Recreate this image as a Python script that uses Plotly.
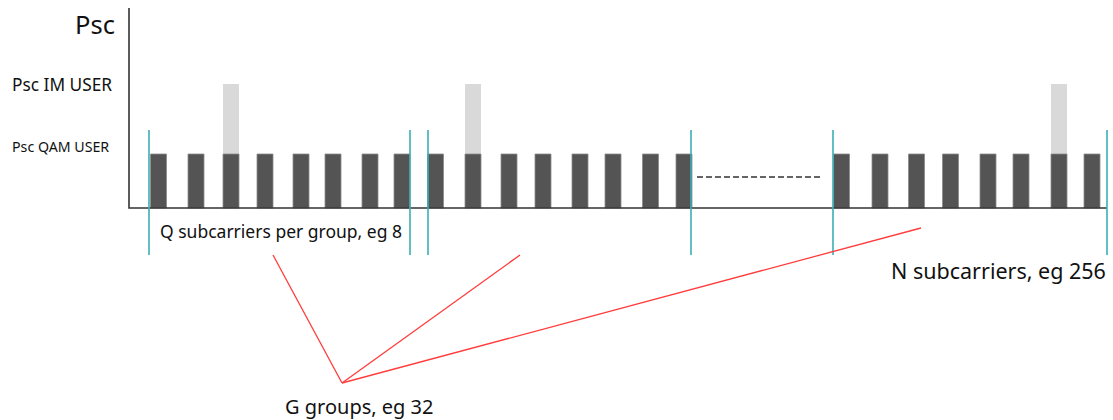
import plotly.graph_objects as go

# ---- data (x positions in chart units, levels in chart units above the baseline) ----
group1_x = [158.5, 196, 231, 265, 301, 333, 370, 402]
group2_x = [435.5, 473, 509, 543, 580, 613, 650.5, 684]
group3_x = [841.5, 880, 916.5, 950.5, 988, 1021, 1059, 1092]
im_x = [231, 473, 1059]          # subcarriers carrying the IM user
qam_level = 54
im_level = 124
separators_x = [149, 410, 428, 691, 833, 1107]
gap_dash_x = [697, 822]
gap_dash_y = 31
g_vertex = (342, -175)
g_targets = [(273, -47), (520, -47), (921, -20)]

DARK = "#545454"
LIGHT = "#d9d9d9"
TEAL = "#3aafb5"
RED = "#ff3b3b"
FONT = "Noto Sans"

all_x = group1_x + group2_x + group3_x

fig = go.Figure()

# light IM bars (behind)
fig.add_trace(go.Bar(x=im_x, y=[im_level] * len(im_x), width=16,
                     marker=dict(color=LIGHT, line=dict(width=0)), showlegend=False))
# dark QAM bars
fig.add_trace(go.Bar(x=all_x, y=[qam_level] * len(all_x), width=16,
                     marker=dict(color=DARK, line=dict(color="#8a8a8a", width=0.8)),
                     showlegend=False))

# axes
fig.add_trace(go.Scatter(x=[129, 129, 1107], y=[200, 0, 0], mode="lines",
                         line=dict(color="#333333", width=1.6), showlegend=False))

# teal group separators
for sx in separators_x:
    fig.add_trace(go.Scatter(x=[sx, sx], y=[78, -47], mode="lines",
                             line=dict(color=TEAL, width=1.6), showlegend=False))

# dashed gap
fig.add_trace(go.Scatter(x=gap_dash_x, y=[gap_dash_y, gap_dash_y], mode="lines",
                         line=dict(color="#333333", width=1.6, dash="6px,3px"),
                         showlegend=False))

# red pointer lines
for tx, ty in g_targets:
    fig.add_trace(go.Scatter(x=[g_vertex[0], tx], y=[g_vertex[1], ty], mode="lines",
                             line=dict(color=RED, width=1.3), showlegend=False))

annots = [
    dict(x=117, y=184, text="Psc", xanchor="right", size=25.5),
    dict(x=10, y=124, text="Psc IM USER", xanchor="left", size=17.3),
    dict(x=10, y=62, text="Psc QAM USER", xanchor="left", size=14.2),
    dict(x=158, y=-23, text="Q subcarriers per group, eg 8", xanchor="left", size=17.5),
    dict(x=1108, y=-62, text="N subcarriers, eg 256", xanchor="right", size=21.5),
    dict(x=359, y=-198, text="G groups, eg 32", xanchor="center", size=20),
]
for a in annots:
    fig.add_annotation(x=a["x"], y=a["y"], text=a["text"], xanchor=a["xanchor"],
                       yanchor="middle", showarrow=False,
                       font=dict(family=FONT, size=a["size"], color="#111111"))

fig.update_layout(
    width=1113, height=420, margin=dict(l=0, r=0, t=0, b=0),
    paper_bgcolor="white", plot_bgcolor="white", barmode="overlay",
    xaxis=dict(range=[0, 1113], visible=False, fixedrange=True),
    yaxis=dict(range=[-212, 208], visible=False, fixedrange=True),
)

fig.write_html("out.html", config={"displayModeBar": False},
               post_script="document.body.style.margin='0';document.body.style.overflow='hidden';")
